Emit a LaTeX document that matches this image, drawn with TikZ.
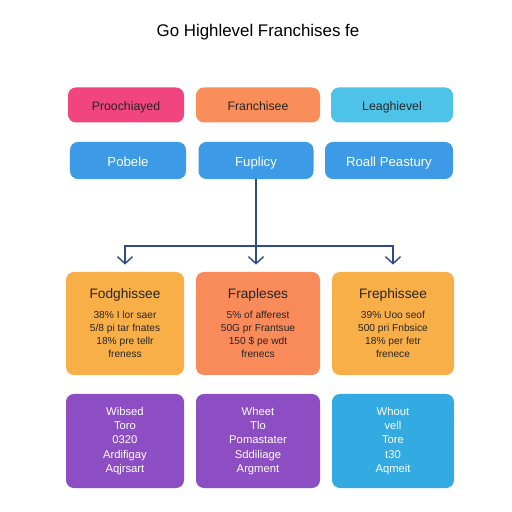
\documentclass[tikz,border=0pt]{standalone}
\usepackage{fontspec}
\setmainfont{Liberation Sans}
\usetikzlibrary{positioning}
\usetikzlibrary{arrows.meta, calc}

\definecolor{pinkA}{HTML}{F0457E}
\definecolor{orangeA}{HTML}{F98E5A}
\definecolor{cyanA}{HTML}{4EC3E9}
\definecolor{blueB}{HTML}{3C9AE6}
\definecolor{amberC}{HTML}{F9AF47}
\definecolor{coralC}{HTML}{F98A5A}
\definecolor{purpleD}{HTML}{8D4EC4}
\definecolor{skyD}{HTML}{33ABE2}
\definecolor{navy}{HTML}{2E4A87}

\begin{document}
\begin{tikzpicture}
  [
    every node/.style={font=\fontsize{7}{8.5}\selectfont},
    align=center
  ]
      \tikzset{
        >={Straight Barb[length=1.4mm,width=3mm,line width=0.8pt]},
        base/.style = {rectangle, rounded corners=4.5pt, draw=none,
                       inner sep=0pt, text centered},
        topstyle/.style = {base, minimum width=2.36cm, minimum height=0.7cm, text=black!85,
                       text height=1.6ex, text depth=0.4ex},
        midstyle/.style = {base, fill=blueB, text=white, minimum width=2.36cm, minimum height=0.74cm,
                       font=\fontsize{7.5}{9}\selectfont, text height=1.6ex, text depth=0.4ex},
        infostyle/.style = {base, minimum width=2.4cm, minimum height=2.06cm,
                       font=\fontsize{5.8}{7.4}\selectfont, text=black!85},
        notestyle/.style = {base, text=white, minimum width=2.4cm, minimum height=1.88cm,
                       font=\fontsize{6.4}{8.2}\selectfont},
        link/.style = {draw=navy, line width=0.8pt},
    }
    \useasboundingbox[fill=white] (0,0) rectangle (10.24,10.24);

    \node (title) at (5.16,9.6) [font=\fontsize{9.6}{11}\selectfont] {Go Highlevel Franchises fe};

    % first row
    \node (prooch) at (2.52,8.14) [topstyle, fill=pinkA, minimum width=2.32cm] {Proochiayed};
    \node (fran) at (5.16,8.14) [topstyle, fill=orangeA, minimum width=2.48cm] {Franchisee};
    \node (leag) at (7.84,8.14) [topstyle, fill=cyanA, minimum width=2.44cm] {Leaghievel};

    % second row
    \node (pobele) at (2.56,7.03) [midstyle, minimum width=2.32cm] {Pobele};
    \node (fupl) at (5.12,7.03) [midstyle, minimum width=2.3cm] {Fuplicy};
    \node (roall) at (7.78,7.03) [midstyle, minimum width=2.56cm] {Roall Peastury};

    % third row
    \node (fodg) at (2.5,3.77) [infostyle, fill=amberC, minimum width=2.36cm]
      {{\fontsize{7.8}{9}\selectfont Fodghissee}\\[4pt]38\% I lor saer\\5/8 pi tar fnates\\18\% pre tellr\\freness};
    \node (frap) at (5.16,3.77) [infostyle, fill=coralC, minimum width=2.48cm]
      {{\fontsize{7.8}{9}\selectfont Frapleses}\\[4pt]5\% of afferest\\50G pr Frantsue\\150 \$ pe wdt\\frenecs};
    \node (freph) at (7.86,3.77) [infostyle, fill=amberC, minimum width=2.44cm]
      {{\fontsize{7.8}{9}\selectfont Frephissee}\\[4pt]39\% Uoo seof\\500 pri Fnbsice\\18\% per fetr\\frenece};

    % fourth row
    \node (wised) at (2.5,1.42) [notestyle, fill=purpleD, minimum width=2.36cm]
      {Wibsed\\Toro\\0320\\Ardifigay\\Aqjrsart};
    \node (wheet) at (5.16,1.42) [notestyle, fill=purpleD, minimum width=2.48cm]
      {Wheet\\Tlo\\Pomastater\\Sddiliage\\Argment};
    \node (whout) at (7.86,1.42) [notestyle, fill=skyD, minimum width=2.44cm]
      {Whout\\vell\\Tore\\t30\\Aqmeit};

    \coordinate (split) at ($(fupl.south)+(0,-1.33)$);
    \draw[link] (fupl.south) -- (split);
    \draw[link,->,shorten >=4pt] (split) -| (fodg.north);
    \draw[link,->,shorten >=4pt] (split) -- (split |- frap.north);
    \draw[link,->,shorten >=4pt] (split) -| (freph.north);
\end{tikzpicture}
\end{document}
